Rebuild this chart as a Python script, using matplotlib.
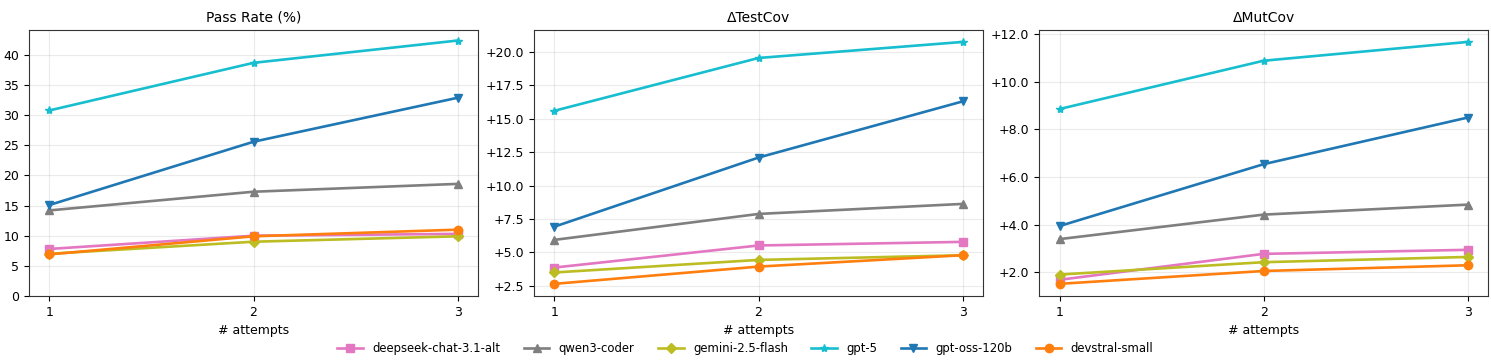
import matplotlib
matplotlib.use("Agg")
import matplotlib.pyplot as plt
from matplotlib.ticker import FuncFormatter

# --- data
attempts = [1, 2, 3]
models = ["deepseek-chat-3.1-alt", "qwen3-coder", "gemini-2.5-flash",
          "gpt-5", "gpt-oss-120b", "devstral-small"]

pass_rate = {
    "deepseek-chat-3.1-alt": [7.8, 10.0, 10.3],
    "qwen3-coder": [14.2, 17.3, 18.6],
    "gemini-2.5-flash": [7.0, 9.0, 9.9],
    "gpt-5": [30.8, 38.7, 42.4],
    "gpt-oss-120b": [15.1, 25.6, 32.9],
    "devstral-small": [6.9, 9.9, 11.0],
}
d_testcov = {
    "deepseek-chat-3.1-alt": [3.87, 5.52, 5.79],
    "qwen3-coder": [5.94, 7.88, 8.63],
    "gemini-2.5-flash": [3.5, 4.44, 4.79],
    "gpt-5": [15.6, 19.55, 20.75],
    "gpt-oss-120b": [6.93, 12.1, 16.3],
    "devstral-small": [2.65, 3.94, 4.79],
}
d_mutcov = {
    "deepseek-chat-3.1-alt": [1.68, 2.77, 2.94],
    "qwen3-coder": [3.39, 4.42, 4.84],
    "gemini-2.5-flash": [1.9, 2.42, 2.64],
    "gpt-5": [8.86, 10.89, 11.68],
    "gpt-oss-120b": [3.94, 6.54, 8.5],
    "devstral-small": [1.51, 2.05, 2.29],
}

colors = {
    "deepseek-chat-3.1-alt": "#e377c2",
    "qwen3-coder": "#7f7f7f",
    "gemini-2.5-flash": "#bcbd22",
    "gpt-5": "#17becf",
    "gpt-oss-120b": "#1f77b4",
    "devstral-small": "#ff7f0e",
}
markers = {
    "deepseek-chat-3.1-alt": "s",
    "qwen3-coder": "^",
    "gemini-2.5-flash": "D",
    "gpt-5": "*",
    "gpt-oss-120b": "v",
    "devstral-small": "o",
}
msizes = {"deepseek-chat-3.1-alt": 5.5, "qwen3-coder": 6, "gemini-2.5-flash": 5.5,
          "gpt-5": 6, "gpt-oss-120b": 6, "devstral-small": 6}

panels = [("Pass Rate (%)", pass_rate, False),
          ("\u0394TestCov", d_testcov, True),
          ("\u0394MutCov", d_mutcov, True)]

fig, axes = plt.subplots(1, 3, figsize=(14.91, 3.64), dpi=100)
plt.subplots_adjust(left=0.0195, right=0.998, top=0.918, bottom=0.187, wspace=0.125)

for ax, (title, data, signed) in zip(axes, panels):
    for m in models:
        ax.plot(attempts, data[m], color=colors[m], marker=markers[m],
                markersize=msizes[m], lw=1.9, label=m)
    ax.set_title(title, fontsize=10)
    ax.set_xlabel("# attempts", fontsize=9)
    ax.set_xticks(attempts)
    ax.grid(True, alpha=0.25)
    ax.tick_params(labelsize=9)
    for s in ax.spines.values():
        s.set_color("#333333")
    if signed:
        ax.yaxis.set_major_formatter(FuncFormatter(lambda v, p: f"{v:+.1f}"))
    else:
        ax.set_ylim(bottom=0)

handles, labels = axes[0].get_legend_handles_labels()
fig.legend(handles, labels, loc="lower center", ncol=6, frameon=False,
           fontsize=8.4, bbox_to_anchor=(0.5, -0.005), columnspacing=2.0,
           handlelength=2.2)

fig.savefig("out.png", dpi=100)
